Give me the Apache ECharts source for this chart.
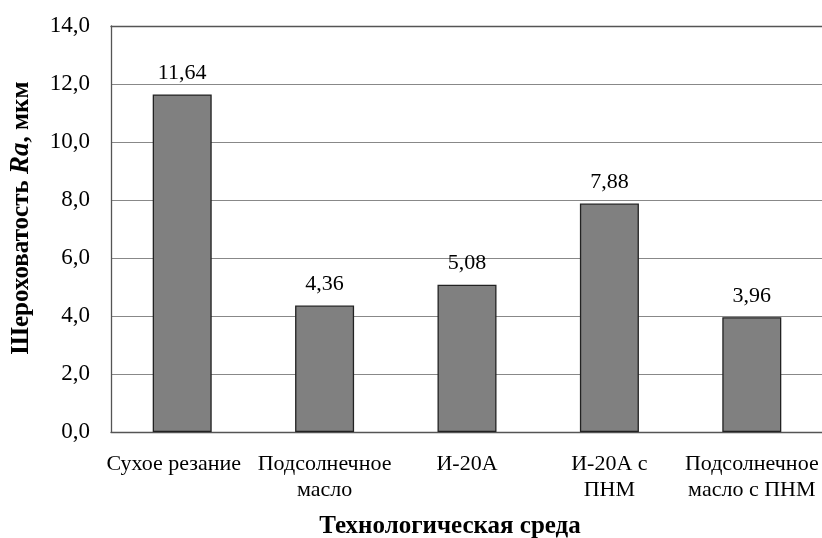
<!DOCTYPE html>
<html><head><meta charset="utf-8">
<script src="https://cdn.jsdelivr.net/npm/echarts@6/dist/echarts.min.js"></script>
<style>html,body{margin:0;padding:0;background:#fff}#c{width:822px;height:538px}</style>
</head><body><div id="c"></div>
<script>
const categories = ['Сухое резание', 'Подсолнечное\nмасло', 'И-20А', 'И-20А с\nПНМ', 'Подсолнечное\nмасло с ПНМ'];
const values = [11.64, 4.36, 5.08, 7.88, 3.96];
const yTicks = { min: 0, max: 14, interval: 2 };
const xTitle = 'Технологическая среда';

const F = 'Liberation Serif, Times New Roman, serif';
const chart = echarts.init(document.getElementById('c'));
chart.setOption({
  animation: false,
  backgroundColor: '#fff',
  grid: { left: 111, right: -1, top: 26, bottom: 106, containLabel: false, outerBoundsMode: 'none' },
  xAxis: [{
    type: 'category', data: categories,
    axisLine: { lineStyle: { color: '#555', width: 1.3 } },
    axisTick: { show: false },
    axisLabel: { fontFamily: F, fontSize: 22, color: '#000', lineHeight: 26, margin: 19, interval: 0,
      formatter: (v, i) => i === 0 ? '{s|' + v + '}' : v,
      rich: { s: { fontFamily: F, fontSize: 22, color: '#000', lineHeight: 26, padding: [0, 17, 0, 0] } } },
    name: xTitle, nameLocation: 'middle', nameGap: 82,
    nameTextStyle: { fontFamily: F, fontSize: 25, fontWeight: 'bold', color: '#000', padding: [0, 34, 0, 0] }
  }, {
    type: 'category', data: categories, position: 'top',
    axisLine: { show: true, lineStyle: { color: '#555', width: 1.3 } },
    axisTick: { show: false }, axisLabel: { show: false }
  }],
  yAxis: {
    type: 'value', min: yTicks.min, max: yTicks.max, interval: yTicks.interval,
    axisLine: { show: true, lineStyle: { color: '#555', width: 1.3 } },
    axisTick: { show: false },
    splitLine: { lineStyle: { color: '#888', width: 1 } },
    axisLabel: { fontFamily: F, fontSize: 23, color: '#000', margin: 21,
      formatter: v => v.toFixed(1).replace('.', ',') },
    name: '{b|Шероховатость }{bi|Ra}{b|, мкм}',
    nameLocation: 'middle', nameGap: 76, nameRotate: 90,
    nameTextStyle: { padding: [0, 0, 0, 22], rich: {
      b: { fontFamily: F, fontSize: 25, fontWeight: 'bold', color: '#000' },
      bi: { fontFamily: F, fontSize: 27, fontWeight: 'bold', fontStyle: 'italic', color: '#000' }
    } }
  },
  series: [{
    type: 'bar', data: values, barWidth: 59,
    itemStyle: { color: '#808080', borderColor: '#222', borderWidth: 1.3 },
    label: { show: true, position: 'top', distance: 10, fontFamily: F, fontSize: 22, color: '#000',
      formatter: p => p.value.toFixed(2).replace('.', ',') }
  }]
});
</script></body></html>
